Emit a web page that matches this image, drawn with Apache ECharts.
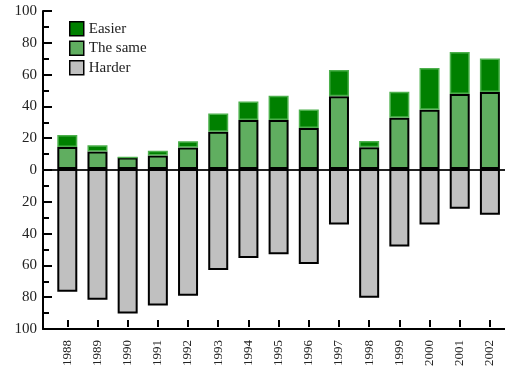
<!DOCTYPE html>
<html>
<head>
<meta charset="utf-8">
<script src="https://cdn.jsdelivr.net/npm/echarts@6/dist/echarts.min.js"></script>
<style>html,body{margin:0;padding:0;background:#fff}#c{width:505px;height:369px}</style>
</head>
<body>
<div id="c"></div>
<script>
var years = ['1988','1989','1990','1991','1992','1993','1994','1995','1996','1997','1998','1999','2000','2001','2002'];
var same   = [14, 11, 7.3, 8.5, 13.6, 23.5, 31, 31, 26, 46, 13.7, 32.5, 37.5, 47.5, 48.7];
var easier = [7.5, 4, 0, 3, 4, 11.7, 11.7, 15.4, 11.7, 16.7, 4, 16.4, 26.5, 26.5, 21.3];
var harder = [77.7, 82.7, 91.4, 86.4, 80.2, 64, 56.4, 54, 60.2, 35.2, 81.5, 49, 35.2, 25.2, 29];

var FONT = '"Liberation Serif", "DejaVu Serif", serif';
var harderNeg = harder.map(function (v) { return -v; });

var chart = echarts.init(document.getElementById('c'));
chart.setOption({
  animation: false,
  grid: [
    { left: 43, right: 0, top: 11, bottom: 40 },
    { left: 52.2, width: 454.7, top: 11, bottom: 40 }
  ],
  legend: {
    orient: 'vertical', left: 69, top: 21, padding: 0,
    itemWidth: 14, itemHeight: 14, itemGap: 4, icon: 'rect',
    textStyle: { fontFamily: FONT, fontSize: 15, color: '#222' },
    data: [
      { name: 'Easier', itemStyle: { color: '#008000', borderColor: '#000', borderWidth: 1.5 } },
      { name: 'The same', itemStyle: { color: '#60ae60', borderColor: '#000', borderWidth: 1.5 } },
      { name: 'Harder', itemStyle: { color: '#c0c0c0', borderColor: '#000', borderWidth: 1.5 } }
    ]
  },
  xAxis: [
    { gridIndex: 0, type: 'value', min: 0, max: 1, position: 'bottom',
      axisLine: { show: true, onZero: false, lineStyle: { color: '#000', width: 2 } },
      axisTick: { show: false }, axisLabel: { show: false }, splitLine: { show: false } },
    { gridIndex: 0, type: 'value', min: 0, max: 1, position: 'bottom',
      axisLine: { show: true, onZero: true, lineStyle: { color: '#222', width: 2 } },
      axisTick: { show: false }, axisLabel: { show: false }, splitLine: { show: false } },
    { gridIndex: 1, type: 'category', data: years, position: 'bottom', boundaryGap: true,
      axisLine: { show: false, onZero: false },
      axisTick: { show: true, alignWithLabel: true, inside: true, length: 7, lineStyle: { color: '#000', width: 2 } },
      axisLabel: { rotate: 90, margin: 13, fontFamily: FONT, fontSize: 13, color: '#222', interval: 0 },
      splitLine: { show: false } }
  ],
  yAxis: [
    { gridIndex: 0, type: 'value', min: -100, max: 100, interval: 20,
      axisLine: { show: true, lineStyle: { color: '#000', width: 2 } },
      axisTick: { show: true, inside: true, length: 9, lineStyle: { color: '#000', width: 2 } },
      minorTick: { show: true, splitNumber: 2, length: 6, lineStyle: { color: '#000', width: 2 } },
      axisLabel: { margin: 6, fontFamily: FONT, fontSize: 15, color: '#222',
        formatter: function (v) { return String(Math.abs(v)); } },
      splitLine: { show: false } },
    { gridIndex: 1, type: 'value', min: -100, max: 100, show: false }
  ],
  series: [
    {
      name: 'The same', type: 'bar', stack: 'a', barWidth: 20, xAxisIndex: 2, yAxisIndex: 1,
      itemStyle: { color: '#60ae60', borderColor: '#000', borderWidth: 2 },
      data: same
    },
    {
      name: 'Easier', type: 'bar', stack: 'a', barWidth: 20, xAxisIndex: 2, yAxisIndex: 1,
      itemStyle: { color: '#008000', borderColor: '#4cb04c', borderWidth: 1.5 },
      data: easier
    },
    {
      name: 'Harder', type: 'bar', stack: 'a', barWidth: 20, xAxisIndex: 2, yAxisIndex: 1,
      itemStyle: { color: '#c0c0c0', borderColor: '#000', borderWidth: 2 },
      data: harderNeg
    }
  ]
});
</script>
</body>
</html>
